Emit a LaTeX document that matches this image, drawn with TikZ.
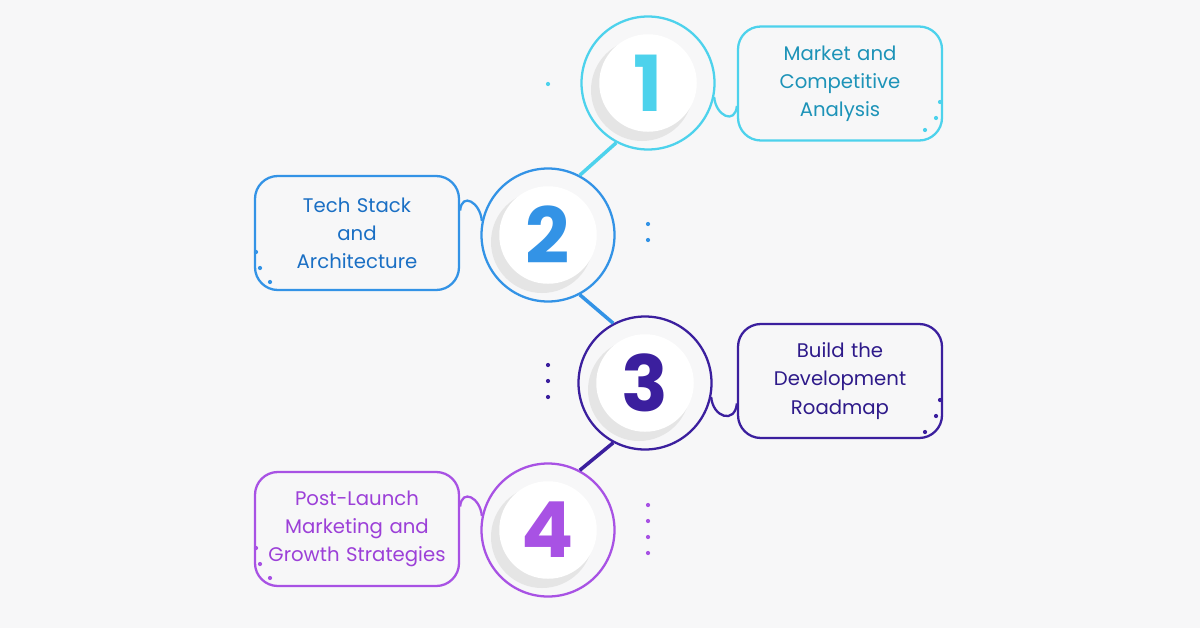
\documentclass[tikz,border=0pt]{standalone}
\usepackage{fontspec}
\setmainfont{Poppins}
\usetikzlibrary{calc}
\definecolor{bgc}{HTML}{F7F7F8}
\definecolor{cone}{HTML}{4DD2EC}
\definecolor{tone}{HTML}{1D93B8}
\definecolor{ctwo}{HTML}{3393E6}
\definecolor{ttwo}{HTML}{1A6FC4}
\definecolor{cthree}{HTML}{3B1F9E}
\definecolor{tthree}{HTML}{2E1A8A}
\definecolor{cfour}{HTML}{A852E4}
\definecolor{tfour}{HTML}{9C40D8}
\tikzset{
  ring/.style={circle, draw=#1, line width=1.3pt, minimum size=2.66cm},
  disc/.style={circle, fill=white, minimum size=1.95cm, font=\fontsize{44}{44}\selectfont\bfseries},
  textbox/.style={rectangle, rounded corners=13pt, draw=#1, line width=1.3pt, minimum width=4.08cm,
    minimum height=2.28cm, text width=3.7cm, align=center, font=\fontsize{11.2}{16}\selectfont},
  dot/.style={circle, fill=#1, inner sep=0pt, minimum size=2.4pt}
}
\begin{document}
\begin{tikzpicture}
  \fill[bgc] (0,0) rectangle (24,-12.56);

  \newcommand{\stepitem}[4]{
    \node[ring=#4] (c#1) at (#2,#3) {};
    \fill[gray!30, opacity=0.6] ($(c#1)+(-0.12,-0.14)$) circle (1.02);
    \node[disc, text=#4] (d#1) at (c#1) {#1};
  }

  \stepitem{1}{12.96}{-1.66}{cone}
  \stepitem{2}{10.96}{-4.70}{ctwo}
  \stepitem{3}{12.90}{-7.66}{cthree}
  \stepitem{4}{10.96}{-10.60}{cfour}

  \node[textbox=cone, text=tone] (b1) at (16.80,-1.67) {Market and\\Competitive\\Analysis};
  \node[textbox=ctwo, text=ttwo] (b2) at (7.14,-4.66) {Tech Stack\\and\\Architecture};
  \node[textbox=cthree, text=tthree] (b3) at (16.80,-7.62) {Build the\\Development\\Roadmap};
  \node[textbox=cfour, text=tfour] (b4) at (7.14,-10.58) {Post-Launch\\Marketing and\\Growth Strategies};

  % loops into the boxes
  \draw[cone, line width=1.3pt] (c1.-12) to[out=-85, in=-95, looseness=2] ($(b1.west)+(0,-0.45)$);
  \draw[ctwo, line width=1.3pt] (c2.168) to[out=95, in=85, looseness=2] ($(b2.east)+(0,0.45)$);
  \draw[cthree, line width=1.3pt] (c3.-12) to[out=-85, in=-95, looseness=2] ($(b3.west)+(0,-0.45)$);
  \draw[cfour, line width=1.3pt] (c4.168) to[out=95, in=85, looseness=2] ($(b4.east)+(0,0.45)$);

  % links between rings
  \draw[cone, line width=2pt] (c1.-118) -- (c2.62);
  \draw[ctwo, line width=2pt] (c2.-62) -- (c3.118);
  \draw[cthree, line width=2pt] (c3.-118) -- (c4.62);

  % dots
  \node[dot=cone] (p1) at (10.96,-1.68) {};
  \node[dot=cone] (p2) at (18.80,-2.04) {};
  \node[dot=cone] (p3) at (18.72,-2.36) {};
  \node[dot=cone] (p4) at (18.50,-2.60) {};
  \node[dot=ctwo] (p5) at (12.96,-4.48) {};
  \node[dot=ctwo] (p6) at (12.96,-4.80) {};
  \node[dot=ctwo] (p7) at (5.12,-5.04) {};
  \node[dot=ctwo] (p8) at (5.20,-5.36) {};
  \node[dot=ctwo] (p9) at (5.40,-5.64) {};
  \node[dot=cthree] (p10) at (10.96,-7.30) {};
  \node[dot=cthree] (p11) at (10.96,-7.62) {};
  \node[dot=cthree] (p12) at (10.96,-7.94) {};
  \node[dot=cthree] (p13) at (18.80,-8.00) {};
  \node[dot=cthree] (p14) at (18.72,-8.32) {};
  \node[dot=cthree] (p15) at (18.50,-8.64) {};
  \node[dot=cfour] (p16) at (12.96,-10.10) {};
  \node[dot=cfour] (p17) at (12.96,-10.42) {};
  \node[dot=cfour] (p18) at (12.96,-10.74) {};
  \node[dot=cfour] (p19) at (12.96,-11.06) {};
  \node[dot=cfour] (p20) at (5.12,-10.96) {};
  \node[dot=cfour] (p21) at (5.20,-11.28) {};
  \node[dot=cfour] (p22) at (5.40,-11.56) {};
\end{tikzpicture}
\end{document}
